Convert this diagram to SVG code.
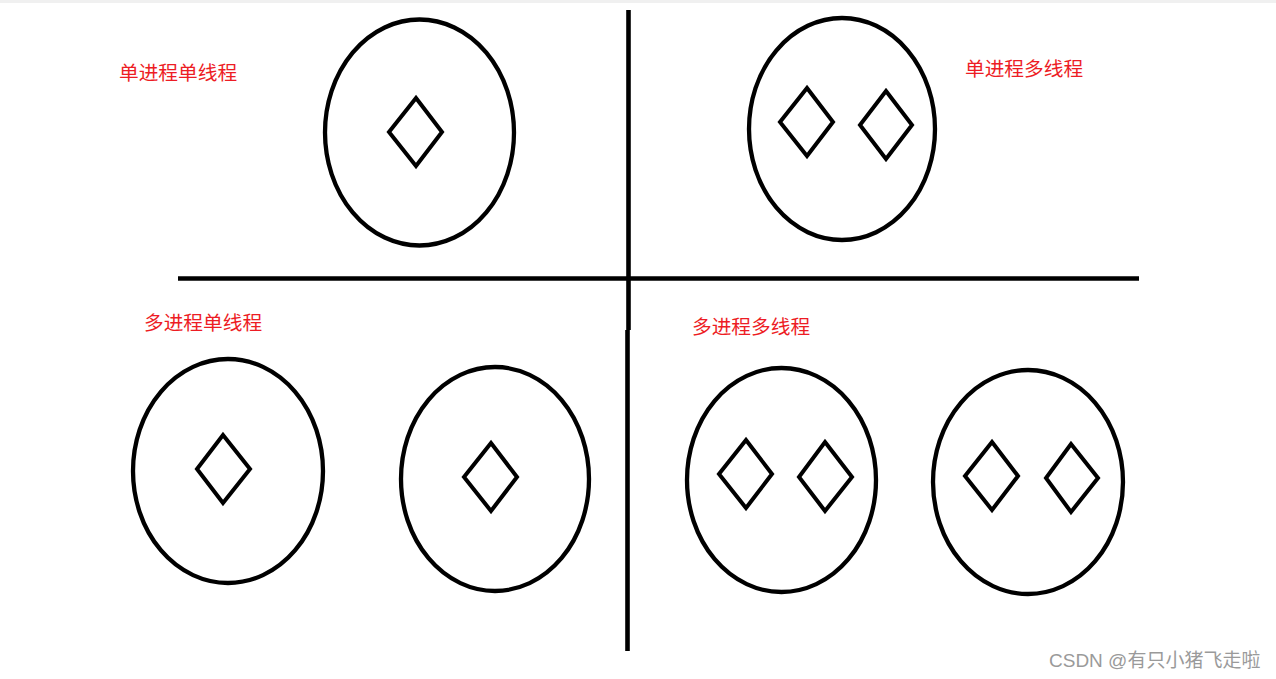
<svg xmlns="http://www.w3.org/2000/svg" width="1276" height="679" viewBox="0 0 1276 679">
<style>
.proc{fill:none;stroke:#000;stroke-width:4.3}
.thr{fill:none;stroke:#000;stroke-width:4;stroke-linejoin:miter}
.div{stroke:#000;stroke-width:4.6;stroke-linecap:butt;fill:none}
.lbl{font-family:"Noto Sans CJK SC","Noto Sans",sans-serif;font-size:19.7px;fill:#ed1c24}
.wm{font-family:"Liberation Sans","Noto Sans CJK SC",sans-serif;font-size:19px;fill:#9a9a9a}
</style>
<rect x="0" y="0" width="1276" height="679" fill="#fff"/>
<rect x="0" y="0" width="1276" height="3" fill="#f0f0f0"/>
<g id="dividers">
<line class="div" x1="628.5" y1="10" x2="628.5" y2="330"/>
<line class="div" x1="627.5" y1="330" x2="627.5" y2="651"/>
<line class="div" x1="178" y1="278.5" x2="1139" y2="278.5"/>
</g>
<g id="single-process-single-thread">
<ellipse class="proc" cx="419.5" cy="132.5" rx="94.5" ry="113"/>
<polygon class="thr" points="416,98 442,132 416,166 389,132"/>
</g>
<g id="single-process-multi-thread">
<ellipse class="proc" cx="842" cy="129" rx="93" ry="111"/>
<polygon class="thr" points="807,88 833,122 807,156 780,122"/>
<polygon class="thr" points="886,91 912,125 886,159 860,125"/>
</g>
<g id="multi-process-single-thread-1">
<ellipse class="proc" cx="228" cy="471" rx="95" ry="112"/>
<polygon class="thr" points="223,435 250,469 223,503 197,469"/>
</g>
<g id="multi-process-single-thread-2">
<ellipse class="proc" cx="495" cy="479" rx="94" ry="112"/>
<polygon class="thr" points="491,443 517,477 491,511 464,477"/>
</g>
<g id="multi-process-multi-thread-1">
<ellipse class="proc" cx="781.5" cy="480" rx="94.5" ry="112"/>
<polygon class="thr" points="746,440 772,474 746,508 719,474"/>
<polygon class="thr" points="825,442 852,477 825,511 799,477"/>
</g>
<g id="multi-process-multi-thread-2">
<ellipse class="proc" cx="1028" cy="482" rx="95" ry="112"/>
<polygon class="thr" points="992,442 1018,476 992,510 965,476"/>
<polygon class="thr" points="1071,444 1098,478 1071,512 1046,478"/>
</g>
<g id="labels">
<text class="lbl" x="119" y="80">单进程单线程</text>
<text class="lbl" x="965" y="76">单进程多线程</text>
<text class="lbl" x="144" y="330">多进程单线程</text>
<text class="lbl" x="692" y="334">多进程多线程</text>
<text class="wm" x="1049" y="667">CSDN @有只小猪飞走啦</text>
</g>
</svg>
